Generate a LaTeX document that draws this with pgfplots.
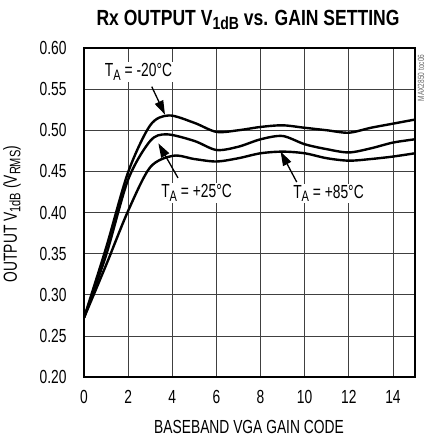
\documentclass[border=0pt]{standalone}
\usepackage{fontspec}
\setmainfont{Liberation Sans}[FakeStretch=0.73]
\newfontfamily\titlefont{Liberation Sans}[FakeStretch=0.80]
\usepackage{pgfplots}
\pgfplotsset{compat=1.18}
\usetikzlibrary{arrows.meta}
\newcommand\sub[1]{\raisebox{-0.35ex}{\scalebox{0.8}{#1}}}
\begin{document}
\begin{tikzpicture}[x=1bp,y=1bp]
\useasboundingbox (-84,-60) rectangle (341,377);
\begin{axis}[
  at={(0,0)}, anchor=south west,
  width=331bp, height=329bp, scale only axis,
  xmin=0, xmax=15, ymin=0.2, ymax=0.6,
  xtick={0,2,4,6,8,10,12,14},
  ytick={0.2,0.25,0.3,0.35,0.4,0.45,0.5,0.55,0.6},
  grid=major,
  major grid style={black!75, line width=0.7bp},
  axis line style={line width=2.6bp},
  tick style={draw=none},
  /pgf/number format/assume math mode=true,
  yticklabel style={/pgf/number format/fixed, /pgf/number format/fixed zerofill,
    /pgf/number format/precision=2, xshift=-14bp},
  xticklabel style={yshift=-10bp},
  ticklabel style={font=\fontsize{19}{21}\selectfont},
]
% T_A = -20 C
\addplot[black, line width=2.4bp, smooth] coordinates {
  (0,0.272)(1,0.357)(2,0.449)(3,0.506)(3.85,0.518)(5,0.509)(6,0.498)(7,0.500)
  (8,0.504)(9,0.506)(10,0.503)(11,0.500)(12,0.497)(13,0.503)(14,0.508)(15,0.513)};
% T_A = +25 C
\addplot[black, line width=2.4bp, smooth] coordinates {
  (0,0.272)(1,0.348)(2,0.440)(3,0.487)(3.75,0.495)(5,0.487)(6,0.476)(7,0.480)
  (8,0.489)(9,0.493)(10,0.483)(11,0.477)(12,0.473)(13,0.478)(14,0.485)(15,0.489)};
% T_A = +85 C
\addplot[black, line width=2.4bp, smooth] coordinates {
  (0,0.272)(1,0.336)(2,0.402)(3,0.455)(4.05,0.469)(5,0.465)(6,0.462)(7,0.466)
  (8,0.472)(9,0.474)(10,0.472)(11,0.466)(12,0.463)(13,0.465)(14,0.468)(15,0.472)};

\draw[line width=1.3bp, -{Triangle[length=14bp,width=9bp]}] (axis cs:3.07,0.553) -- (axis cs:3.67,0.519);
\draw[line width=1.3bp, -{Triangle[length=14bp,width=9bp]}] (axis cs:4.26,0.442) -- (axis cs:3.37,0.484);
\draw[line width=1.3bp, -{Triangle[length=14bp,width=9bp]}] (axis cs:9.64,0.437) -- (axis cs:8.91,0.474);
\node[fill=white, inner sep=1.5bp, font=\fontsize{19}{21}\selectfont] at (axis cs:2.47,0.571) {T\sub{A} = -20°C};
\node[fill=white, inner sep=1.5bp, font=\fontsize{19}{21}\selectfont] at (axis cs:5.10,0.424) {T\sub{A} = +25°C};
\node[fill=white, inner sep=1.5bp, font=\fontsize{19}{21}\selectfont] at (axis cs:11.08,0.423) {T\sub{A} = +85°C};
\end{axis}
\node[font=\titlefont\bfseries\fontsize{22}{24}\selectfont] at (164,357) {Rx OUTPUT V\sub{1dB} vs. GAIN SETTING};
\node[font=\fontsize{19}{21}\selectfont] at (165,-50) {BASEBAND VGA GAIN CODE};
\node[rotate=90, font=\fontsize{19}{21}\selectfont] at (-72,163) {OUTPUT V\sub{1dB} (V\sub{RMS})};
\node[rotate=90, text=black!60, font=\fontsize{9}{10}\selectfont] at (337,299) {MAX2850 toc06};
\end{tikzpicture}
\end{document}
